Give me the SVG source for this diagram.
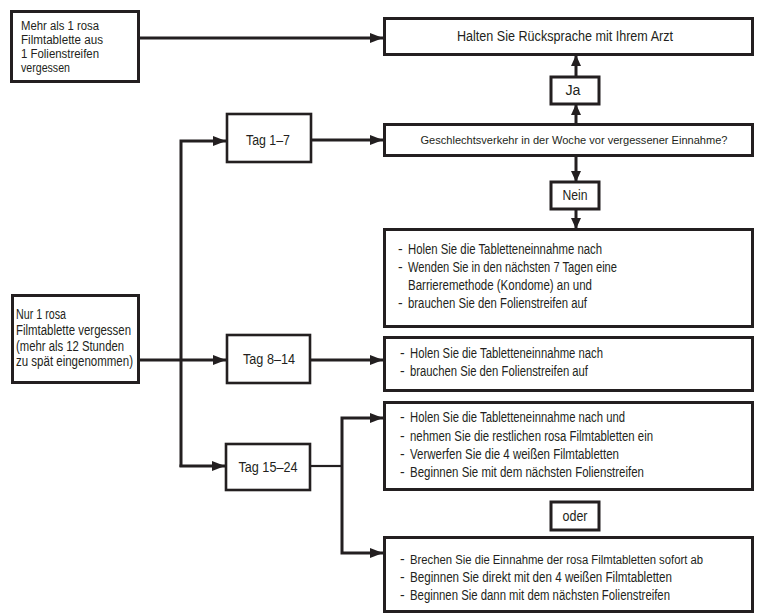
<svg xmlns="http://www.w3.org/2000/svg" width="761" height="616" viewBox="0 0 761 616">
<defs>
<marker id="ah" markerUnits="userSpaceOnUse" markerWidth="13" markerHeight="10" refX="13" refY="5" orient="auto">
<path d="M0,0 L13,5 L0,10 z" fill="#231f20"/>
</marker>
<marker id="av" markerUnits="userSpaceOnUse" markerWidth="11" markerHeight="10" refX="11" refY="5" orient="auto">
<path d="M0,0 L11,5 L0,10 z" fill="#231f20"/>
</marker>
<style>
.box{fill:#fff;stroke:#231f20;stroke-width:3}
.sm{fill:#fff;stroke:#231f20;stroke-width:2.6}
.ln{fill:none;stroke:#231f20;stroke-width:3}
text{font-family:"Liberation Sans",Arial,sans-serif;font-size:14px;fill:#231f20}
.c{text-anchor:middle}
.t{font-size:12.5px}
.q{font-size:11.5px}
</style>
</defs>
<rect width="761" height="616" fill="#fff"/>
<g id="connectors">
<path class="ln" d="M139,38 H383" marker-end="url(#ah)"/>
<path class="ln" d="M311,140 H383" marker-end="url(#ah)"/>
<path class="ln" d="M576,124 V104" marker-end="url(#av)"/>
<path class="ln" d="M576,77 V55" marker-end="url(#av)"/>
<path class="ln" d="M576,156 V182" marker-end="url(#av)"/>
<path class="ln" d="M576,209 V229" marker-end="url(#av)"/>
<path class="ln" d="M138,360 H226" marker-end="url(#ah)"/>
<path class="ln" d="M181,467 V141 H226" marker-end="url(#ah)"/>
<path class="ln" d="M179.5,466 H225" marker-end="url(#ah)"/>
<path class="ln" d="M310,360 H383" marker-end="url(#ah)"/>
<path class="ln" d="M310,466 H342" style="stroke-width:2.2"/>
<path class="ln" d="M342,466 V418 H383" marker-end="url(#ah)"/>
<path class="ln" d="M342,466 V553 H383" marker-end="url(#ah)"/>
</g>
<g id="n_mehr">
<rect class="box" x="11.5" y="11.5" width="127" height="70"/>
<text class="t" x="21" y="29.5" textLength="78" lengthAdjust="spacingAndGlyphs">Mehr als 1 rosa</text>
<text class="t" x="21" y="43.8" textLength="82" lengthAdjust="spacingAndGlyphs">Filmtablette aus</text>
<text class="t" x="21" y="58.1" textLength="78" lengthAdjust="spacingAndGlyphs">1 Folienstreifen</text>
<text class="t" x="21" y="72.4" textLength="49" lengthAdjust="spacingAndGlyphs">vergessen</text>
</g>
<g id="n_arzt">
<rect class="box" x="384.5" y="18.5" width="368" height="36"/>
<text class="c" x="565" y="41" textLength="216" lengthAdjust="spacingAndGlyphs">Halten Sie Rücksprache mit Ihrem Arzt</text>
</g>
<g id="n_ja">
<rect class="box" x="551" y="77" width="48" height="27"/>
<text class="c" x="573" y="95" textLength="15" lengthAdjust="spacingAndGlyphs">Ja</text>
</g>
<g id="n_frage">
<rect class="box" x="384.5" y="124.5" width="368" height="31"/>
<text class="c q" x="574" y="144" textLength="307" lengthAdjust="spacingAndGlyphs">Geschlechtsverkehr in der Woche vor vergessener Einnahme?</text>
</g>
<g id="n_nein">
<rect class="box" x="551" y="182" width="48" height="27"/>
<text class="c" x="575" y="200" textLength="25" lengthAdjust="spacingAndGlyphs">Nein</text>
</g>
<g id="n_box1">
<rect class="box" x="384.5" y="229.5" width="368" height="97"/>
<text x="398" y="254">-</text><text x="408" y="254" textLength="194" lengthAdjust="spacingAndGlyphs">Holen Sie die Tabletteneinnahme nach</text>
<text x="398" y="272">-</text><text x="408" y="272" textLength="209" lengthAdjust="spacingAndGlyphs">Wenden Sie in den nächsten 7 Tagen eine</text>
<text x="408" y="290" textLength="184" lengthAdjust="spacingAndGlyphs">Barrieremethode (Kondome) an und</text>
<text x="398" y="308">-</text><text x="408" y="308" textLength="179" lengthAdjust="spacingAndGlyphs">brauchen Sie den Folienstreifen auf</text>
</g>
<g id="n_nur">
<rect class="box" x="12.5" y="295.5" width="126" height="87"/>
<text x="16" y="319" textLength="50" lengthAdjust="spacingAndGlyphs">Nur 1 rosa</text>
<text x="16" y="335" textLength="115" lengthAdjust="spacingAndGlyphs">Filmtablette vergessen</text>
<text x="16" y="351" textLength="108" lengthAdjust="spacingAndGlyphs">(mehr als 12 Stunden</text>
<text x="16" y="366" textLength="117" lengthAdjust="spacingAndGlyphs">zu spät eingenommen)</text>
</g>
<g id="n_tag1">
<rect class="sm" x="227" y="114" width="84" height="48"/>
<text class="c" x="268" y="145" textLength="44" lengthAdjust="spacingAndGlyphs">Tag 1–7</text>
</g>
<g id="n_tag8">
<rect class="sm" x="227" y="335" width="83" height="48"/>
<text class="c" x="269" y="364" textLength="52" lengthAdjust="spacingAndGlyphs">Tag 8–14</text>
</g>
<g id="n_tag15">
<rect class="sm" x="226" y="444" width="84" height="46"/>
<text class="c" x="268" y="472" textLength="59" lengthAdjust="spacingAndGlyphs">Tag 15–24</text>
</g>
<g id="n_box2">
<rect class="box" x="384.5" y="337.5" width="368" height="53"/>
<text x="400" y="358">-</text><text x="410" y="358" textLength="193" lengthAdjust="spacingAndGlyphs">Holen Sie die Tabletteneinnahme nach</text>
<text x="400" y="376">-</text><text x="410" y="376" textLength="178" lengthAdjust="spacingAndGlyphs">brauchen Sie den Folienstreifen auf</text>
</g>
<g id="n_box3">
<rect class="box" x="384.5" y="402.5" width="368" height="87"/>
<text x="400" y="422">-</text><text x="410" y="422" textLength="215" lengthAdjust="spacingAndGlyphs">Holen Sie die Tabletteneinnahme nach und</text>
<text x="400" y="441">-</text><text x="410" y="441" textLength="243" lengthAdjust="spacingAndGlyphs">nehmen Sie die restlichen rosa Filmtabletten ein</text>
<text x="400" y="459">-</text><text x="410" y="459" textLength="209" lengthAdjust="spacingAndGlyphs">Verwerfen Sie die 4 weißen Filmtabletten</text>
<text x="400" y="477">-</text><text x="410" y="477" textLength="234" lengthAdjust="spacingAndGlyphs">Beginnen Sie mit dem nächsten Folienstreifen</text>
</g>
<g id="n_oder">
<rect class="box" x="551" y="502" width="48" height="28"/>
<text class="c" x="575" y="521" textLength="25" lengthAdjust="spacingAndGlyphs">oder</text>
</g>
<g id="n_box4">
<rect class="box" x="384.5" y="537.5" width="368" height="74"/>
<text x="400" y="564">-</text><text class="t" x="410" y="564" textLength="293" lengthAdjust="spacingAndGlyphs">Brechen Sie die Einnahme der rosa Filmtabletten sofort ab</text>
<text x="400" y="582">-</text><text x="410" y="582" textLength="262" lengthAdjust="spacingAndGlyphs">Beginnen Sie direkt mit den 4 weißen Filmtabletten</text>
<text x="400" y="600">-</text><text x="410" y="600" textLength="260" lengthAdjust="spacingAndGlyphs">Beginnen Sie dann mit dem nächsten Folienstreifen</text>
</g>
</svg>
